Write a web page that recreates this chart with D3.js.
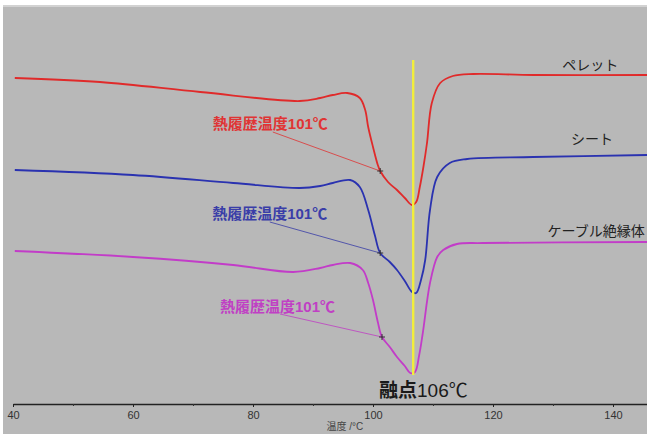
<!DOCTYPE html>
<html>
<head>
<meta charset="UTF-8">
<title>DSC</title>
<script src="https://d3js.org/d3.v7.min.js"></script>
<style>
  html, body { margin: 0; padding: 0; background: #fff; }
  svg { display: block; font-family: "Liberation Sans", Arial, "Noto Sans CJK JP", sans-serif; }
</style>
</head>
<body>
<svg width="647" height="434"></svg>
<script>

// DATA  (temperature in degC, heat flow in arbitrary units)

var pelletT = [40.3, 54.5, 71.2, 87.8, 91.2, 93.3, 95.7, 97.8, 98.7, 99.2, 100.0, 100.8, 101.2, 102.5, 104.0, 105.3, 106.5, 107.2, 107.8, 108.4, 109.0, 109.8, 111.2, 113.3, 116.7, 126.7, 145.7];
var pelletV = [32.7, 32.3, 31.3, 30.4, 30.7, 31.0, 31.2, 30.7, 29.5, 27.8, 25.8, 24.0, 23.4, 22.3, 21.5, 20.7, 20.0, 20.3, 21.8, 23.8, 26.2, 30.2, 32.2, 32.9, 33.1, 33.0, 33.0];

var sheetT = [40.3, 60.0, 76.7, 87.8, 91.2, 93.3, 96.2, 97.8, 99.2, 100.3, 101.2, 102.8, 104.0, 105.3, 106.5, 107.2, 108.0, 108.7, 109.5, 110.7, 112.8, 115.7, 126.7, 145.7];
var sheetV = [23.5, 23.0, 22.2, 21.7, 21.9, 22.2, 22.5, 21.8, 19.5, 17.0, 15.2, 14.3, 13.5, 12.4, 11.3, 11.2, 12.5, 14.5, 19.5, 22.8, 24.2, 24.6, 24.8, 25.0];

var cableT = [40.3, 60.0, 76.7, 86.7, 91.2, 93.3, 96.2, 98.3, 99.2, 100.0, 100.8, 101.5, 102.8, 104.0, 105.3, 106.2, 107.0, 107.7, 108.3, 109.5, 110.7, 111.7, 114.0, 118.3, 145.7];
var cableV = [15.4, 14.8, 14.0, 13.3, 13.7, 14.0, 14.2, 13.5, 12.2, 10.5, 8.3, 6.8, 5.8, 4.8, 3.9, 3.2, 3.3, 5.0, 7.2, 12.2, 14.8, 15.5, 16.1, 16.2, 16.3];

var seriesNames = ["ペレット", "シート", "ケーブル絶縁体"];
var seriesColors = ["#e02a2a", "#2a32b0", "#c23cc8"];
var labelColors = ["#e03434", "#3a3ea8", "#c040c4"];

// where each series name sits (temperature, value)
var nameT = [136.2, 136.5, 137.2];
var nameV = [33.5, 26.1, 16.9];

// annotation: text position, line start, arrow point
var noteText = "熱履歴温度101℃";
var noteT = [73.3, 73.2, 74.5];
var noteV = [27.6, 18.6, 9.3];
var noteFromT = [83.3, 82.8, 84.5];
var noteFromV = [27.3, 18.3, 9.1];
var noteToT = [101.2, 101.2, 101.5];
var noteToV = [23.4, 15.2, 6.8];

var meltT = 106.7;
var meltLabel = ["融点", "106℃"];

var xTicks = [40, 60, 80, 100, 120, 140];
var xMinorTicks = [50, 70, 90, 110, 130];
var xTitle = "温度 /°C";

// SETUP

var svg = d3.select("svg");

svg.append("rect")
  .attr("x", 3).attr("y", 5)
  .attr("width", 644).attr("height", 429)
  .attr("fill", "#b8b8b8");
svg.append("line")
  .attr("x1", 3).attr("x2", 647).attr("y1", 6).attr("y2", 6)
  .attr("stroke", "#d2d2d2").attr("stroke-width", 2);

var x = d3.scaleLinear().domain([40, 146]).range([13, 649]);
var y = d3.scaleLinear().domain([0, 35]).range([405, 55]);

// AXIS

var axisY = 404;

var gx = svg.append("g")
  .attr("transform", "translate(0," + axisY + ")")
  .call(d3.axisBottom(x).tickValues(xTicks).tickSize(3).tickSizeOuter(0).tickPadding(4));
gx.select(".domain").attr("stroke", "#222").attr("stroke-width", 1.3);
gx.selectAll(".tick line").attr("stroke", "#222");
gx.selectAll(".tick text").attr("fill", "#333").style("font-size", "11px");

svg.append("g")
  .attr("transform", "translate(0," + axisY + ")")
  .call(d3.axisBottom(x).tickValues(xMinorTicks).tickSize(2).tickFormat(""))
  .call(function (g) { g.select(".domain").remove(); })
  .selectAll(".tick line").attr("stroke", "#333");

svg.append("text")
  .attr("x", x(95.3)).attr("y", 430)
  .attr("text-anchor", "middle")
  .attr("fill", "#444")
  .style("font-size", "10px")
  .text(xTitle);

// CURVES

var line = d3.line()
  .x(function (d) { return x(d[0]); })
  .y(function (d) { return y(d[1]); })
  .curve(d3.curveCatmullRom.alpha(0.5));

var allT = [pelletT, sheetT, cableT];
var allV = [pelletV, sheetV, cableV];

allT.forEach(function (ts, i) {
  var pts = ts.map(function (t, j) { return [t, allV[i][j]]; });
  svg.append("path")
    .datum(pts)
    .attr("d", line)
    .attr("fill", "none")
    .attr("stroke", seriesColors[i])
    .attr("stroke-width", 1.8);
});

// yellow melt line, on top of the curves
svg.append("line")
  .attr("x1", x(meltT)).attr("x2", x(meltT))
  .attr("y1", y(34.5)).attr("y2", y(3.0))
  .attr("stroke", "#f2ee3a").attr("stroke-width", 2.4);

// ANNOTATIONS

seriesNames.forEach(function (name, i) {
  svg.append("text")
    .attr("x", x(nameT[i])).attr("y", y(nameV[i]))
    .attr("text-anchor", "middle")
    .attr("fill", "#222")
    .style("font-family", "'Noto Sans CJK JP', sans-serif")
    .style("font-size", "14px")
    .text(name);

  svg.append("line")
    .attr("x1", x(noteFromT[i])).attr("y1", y(noteFromV[i]))
    .attr("x2", x(noteToT[i])).attr("y2", y(noteToV[i]))
    .attr("stroke", labelColors[i]).attr("stroke-width", 1)
    .attr("opacity", 0.8);

  var cx = x(noteToT[i]), cy = y(noteToV[i]);
  svg.append("path")
    .attr("d", "M" + (cx - 3) + "," + cy + "H" + (cx + 3) + "M" + cx + "," + (cy - 3) + "V" + (cy + 3))
    .attr("stroke", "#333").attr("stroke-width", 1);

  svg.append("text")
    .attr("x", x(noteT[i])).attr("y", y(noteV[i]))
    .attr("fill", labelColors[i])
    .style("font-size", "15px")
    .style("font-weight", "bold")
    .text(noteText);
});

var melt = svg.append("text")
  .attr("x", x(101.0)).attr("y", y(0.8))
  .attr("fill", "#1a1a1a")
  .style("font-size", "19px");
melt.append("tspan").style("font-weight", "bold").text(meltLabel[0]);
melt.append("tspan").text(meltLabel[1]);

</script>
</body>
</html>
